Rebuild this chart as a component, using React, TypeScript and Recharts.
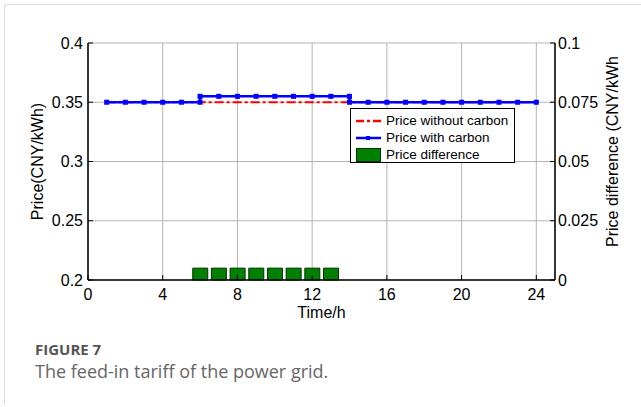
import React from "react";
import {
  ComposedChart,
  Line,
  Bar,
  XAxis,
  YAxis,
  CartesianGrid,
  Legend,
  Label,
} from "recharts";

const hours = [1, 2, 3, 4, 5, 6, 7, 8, 9, 10, 11, 12, 13, 14, 15, 16, 17, 18, 19, 20, 21, 22, 23, 24];
const priceWithout = [
  0.35, 0.35, 0.35, 0.35, 0.35, 0.35, 0.35, 0.35, 0.35, 0.35, 0.35, 0.35,
  0.35, 0.35, 0.35, 0.35, 0.35, 0.35, 0.35, 0.35, 0.35, 0.35, 0.35, 0.35,
];
const priceDiff = [
  null, null, null, null, null, 0.005, 0.005, 0.005, 0.005, 0.005, 0.005, 0.005,
  0.005, null, null, null, null, null, null, null, null, null, null, null,
];
// carbon price steps up at 6h and back down at 14h
const carbonHours = [1, 2, 3, 4, 5, 6, 6, 7, 8, 9, 10, 11, 12, 13, 14, 14, 15, 16, 17, 18, 19, 20, 21, 22, 23, 24];
const priceWith = [
  0.35, 0.35, 0.35, 0.35, 0.35, 0.35, 0.355, 0.355, 0.355, 0.355, 0.355, 0.355, 0.355,
  0.355, 0.355, 0.35, 0.35, 0.35, 0.35, 0.35, 0.35, 0.35, 0.35, 0.35, 0.35, 0.35,
];

const xTicks = [0, 4, 8, 12, 16, 20, 24];
const leftTicks = [0.2, 0.25, 0.3, 0.35, 0.4];
const rightTicks = [0, 0.025, 0.05, 0.075, 0.1];

const chartData = hours.map((t, i) => ({ t, without: priceWithout[i], diff: priceDiff[i] }));
const carbonData = carbonHours.map((t, i) => ({ t, withCarbon: priceWith[i] }));

const FONT = "'Liberation Sans', Arial, Helvetica, sans-serif";
const tickStyle = { fontSize: 16, fill: "#000", fontFamily: FONT };

function SquareDot(props: any) {
  const { cx, cy, index } = props;
  if (cx == null || cy == null) return <g key={index} />;
  return <rect key={index} x={cx - 2.5} y={cy - 2.5} width={5} height={5} fill="#0000ff" />;
}

function LeftLabel(props: any) {
  const vb = props.viewBox;
  const x = vb.x + 37;
  const y = vb.y + vb.height / 2;
  return (
    <text x={x} y={y} transform={`rotate(-90, ${x}, ${y})`} textAnchor="middle" dominantBaseline="central" fontSize={16} fontFamily={FONT} fill="#000">
      Price(CNY/kWh)
    </text>
  );
}

function RightLabel(props: any) {
  const vb = props.viewBox;
  const x = vb.x + 57;
  const y = vb.y + vb.height / 2 - 10;
  return (
    <text x={x} y={y} transform={`rotate(-90, ${x}, ${y})`} textAnchor="middle" dominantBaseline="central" fontSize={16} fontFamily={FONT} fill="#000">
      Price difference (CNY/kWh
    </text>
  );
}

function BottomLabel(props: any) {
  const vb = props.viewBox;
  return (
    <text x={vb.x + vb.width / 2} y={vb.y + 38} textAnchor="middle" fontSize={16} fontFamily={FONT} fill="#000">
      Time/h
    </text>
  );
}

function LegendBox() {
  const row = { display: "flex", alignItems: "center", height: 17 };
  const txt = { marginLeft: 5, fontSize: 13.5, fontFamily: FONT, color: "#000", whiteSpace: "nowrap" as const };
  return (
    <div style={{ boxSizing: "border-box", width: 165, height: 55, border: "1px solid #000", background: "#fff", padding: "3px 0 0 5px" }}>
      <div style={row}>
        <svg width={25} height={10}>
          <line x1={0} y1={5} x2={25} y2={5} stroke="#ff0000" strokeWidth={2.5} strokeDasharray="8 3 3 3" />
        </svg>
        <span style={txt}>Price without carbon</span>
      </div>
      <div style={row}>
        <svg width={25} height={10}>
          <line x1={0} y1={5} x2={25} y2={5} stroke="#0000ff" strokeWidth={2.5} />
          <rect x={10} y={3} width={4} height={4} fill="#0000ff" />
        </svg>
        <span style={txt}>Price with carbon</span>
      </div>
      <div style={row}>
        <svg width={25} height={14}>
          <rect x={0.5} y={0.5} width={24} height={13} fill="#008000" stroke="#003300" />
        </svg>
        <span style={txt}>Price difference</span>
      </div>
    </div>
  );
}

export default function App() {
  return (
    <div style={{ position: "absolute", left: 0, top: 0, width: 641, height: 407, background: "#fff", overflow: "hidden" }}>
      <div style={{ position: "absolute", left: 4, top: 4, width: 700, height: 400, borderLeft: "1px solid #dcdcdc", borderTop: "1px solid #dcdcdc", borderTopLeftRadius: 3 }} />
      <ComposedChart width={641} height={330} data={chartData} margin={{ top: 43, right: 0, bottom: 0, left: 0 }}>
        <CartesianGrid yAxisId="left" stroke="#b4b4b4" strokeWidth={1} />
        <XAxis
          dataKey="t"
          type="number"
          domain={[0, 25]}
          ticks={xTicks}
          interval={0}
          height={50}
          tick={tickStyle}
          tickSize={-5}
          tickMargin={14}
          axisLine={{ stroke: "#000", strokeWidth: 1.5 }}
          tickLine={{ stroke: "#000" }}
        >
          <Label content={BottomLabel} />
        </XAxis>
        <XAxis
          xAxisId="top"
          orientation="top"
          dataKey="t"
          type="number"
          domain={[0, 25]}
          ticks={xTicks}
          height={0}
          tick={false}
          tickSize={-5}
          axisLine={{ stroke: "#000", strokeWidth: 1.5 }}
          tickLine={{ stroke: "#000" }}
        />
        <YAxis
          yAxisId="left"
          domain={[0.2, 0.4]}
          ticks={leftTicks}
          interval={0}
          width={88}
          tick={tickStyle}
          tickSize={-5}
          tickMargin={10}
          axisLine={{ stroke: "#000", strokeWidth: 1.5 }}
          tickLine={{ stroke: "#000" }}
        >
          <Label content={LeftLabel} />
        </YAxis>
        <YAxis
          yAxisId="right"
          orientation="right"
          domain={[0, 0.1]}
          ticks={rightTicks}
          interval={0}
          width={86}
          tick={tickStyle}
          tickSize={-5}
          tickMargin={8}
          axisLine={{ stroke: "#000", strokeWidth: 1.5 }}
          tickLine={{ stroke: "#000" }}
        >
          <Label content={RightLabel} />
        </YAxis>
        <Bar
          yAxisId="right"
          dataKey="diff"
          name="Price difference"
          barSize={15}
          fill="#008000"
          stroke="#003300"
          strokeWidth={1}
          isAnimationActive={false}
        />
        <Line
          yAxisId="left"
          dataKey="without"
          name="Price without carbon"
          stroke="#ff0000"
          strokeWidth={2}
          strokeDasharray="9 3 3 3"
          dot={false}
          isAnimationActive={false}
        />
        <Line
          yAxisId="left"
          data={carbonData}
          dataKey="withCarbon"
          name="Price with carbon"
          stroke="#0000ff"
          strokeWidth={2.5}
          dot={SquareDot}
          isAnimationActive={false}
        />
        <Legend
          layout="vertical"
          align="center"
          verticalAlign="middle"
          content={LegendBox}
          wrapperStyle={{ left: 350, top: 108, width: 165, height: 55 }}
        />
      </ComposedChart>
      <div style={{ position: "absolute", left: 35, top: 341, lineHeight: "16px", fontFamily: "'Open Sans', sans-serif", fontWeight: 700, fontSize: 15, color: "#555" }}>
        FIGURE 7
      </div>
      <div style={{ position: "absolute", left: 35, top: 360, lineHeight: "22px", fontFamily: "'Open Sans', sans-serif", fontSize: 18, color: "#666" }}>
        The feed-in tariff of the power grid.
      </div>
    </div>
  );
}
